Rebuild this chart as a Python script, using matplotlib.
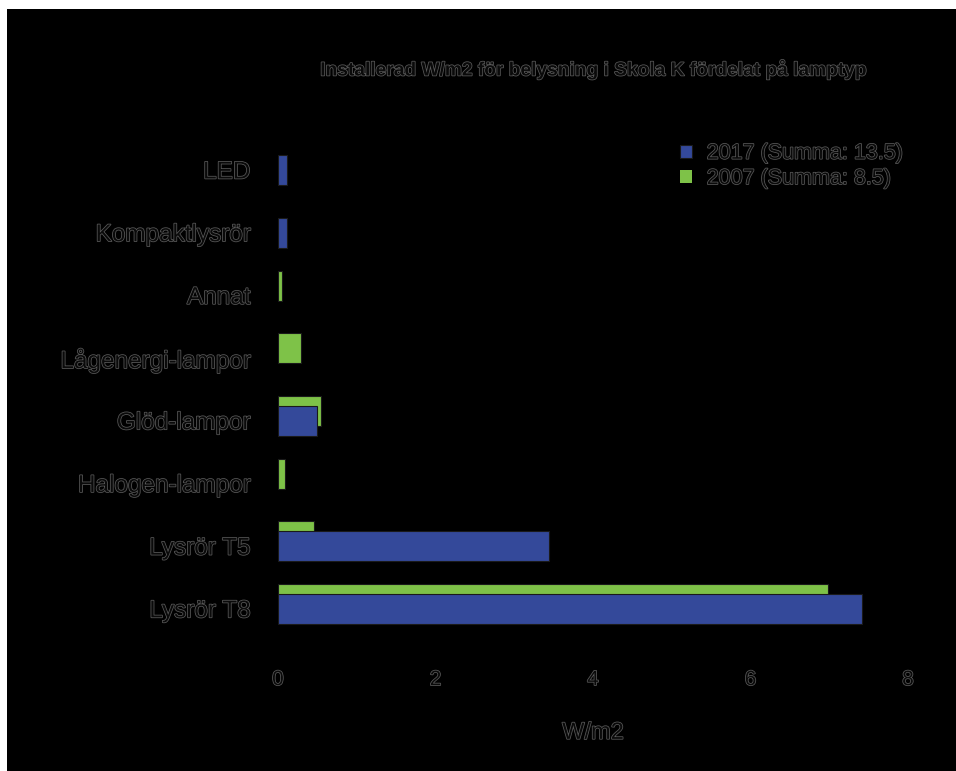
import matplotlib
matplotlib.use("Agg")
import matplotlib.pyplot as plt
import matplotlib.patheffects as pe
from matplotlib.patches import Rectangle
import numpy as np

# data (W/m2 per lamp type)
categories = ["LED", "Kompaktlysrör", "Annat", "Lågenergi-lampor",
              "Glöd-lampor", "Halogen-lampor", "Lysrör T5", "Lysrör T8"]
values_2017 = [0.11, 0.12, 0.0, 0.0, 0.50, 0.0, 3.44, 7.42]
values_2007 = [0.0, 0.0, 0.05, 0.29, 0.55, 0.09, 0.46, 6.98]
label_2017 = "2017 (Summa: 13.5)"
label_2007 = "2007 (Summa: 8.5)"
xticks = [0, 2, 4, 6, 8]
title = "Installerad W/m2 för belysning i Skola K fördelat på lamptyp"
xlabel = "W/m2"

blue = "#34499a"
green = "#7ec248"
txt = "#0a0a0a"
# dark text on black with a faint grey rim, like the original
rim = [pe.withStroke(linewidth=1.1, foreground="#5a5a5a")]

plt.rcParams["font.family"] = ["Liberation Sans", "DejaVu Sans"]

fig = plt.figure(figsize=(9.56, 7.71), dpi=100)
fig.patch.set_facecolor("white")
# black plate, white strip on top and left
fig.patches.append(Rectangle((7 / 956, 0), 1 - 7 / 956, 1 - 9 / 771,
                             transform=fig.transFigure, facecolor="black",
                             edgecolor="none", zorder=-10))

ax = fig.add_axes([278 / 956, 0.1615, (908 - 278) / 956, 0.8283 - 0.1615])
ax.set_facecolor("none")

y = np.arange(len(categories))
h = 0.48
lw7 = [0.8 if v > 0 else 0 for v in values_2007]
lw17 = [0.8 if v > 0 else 0 for v in values_2017]
ax.barh(y - 0.155, values_2007, height=h, color=green, edgecolor="#1a1a1a",
        linewidth=lw7, label=label_2007, zorder=2)
ax.barh(y, values_2017, height=h, color=blue, edgecolor="#1a1a1a",
        linewidth=lw17, label=label_2017, zorder=3)

ax.set_xlim(0, 8)
ax.set_ylim(7.6, -0.6)
ax.set_xticks(xticks)
ax.set_yticks(y)
ax.set_yticklabels(categories)
for s in ax.spines.values():
    s.set_visible(False)
ax.tick_params(length=0)
ax.tick_params(axis="x", pad=17, labelsize=15, labelcolor=txt)
ax.tick_params(axis="y", pad=20, labelsize=17.5, labelcolor=txt)
for t in ax.get_xticklabels() + ax.get_yticklabels():
    t.set_path_effects(rim)

ax.set_xlabel(xlabel, fontsize=17, color=txt, path_effects=rim)
ax.xaxis.label.set_va("center")
ax.xaxis.set_label_coords(0.5, -0.168)

fig.text(593 / 956, 1 - 70 / 771, title, ha="center", va="center",
         fontsize=13.8, fontweight="bold", color=txt, path_effects=rim)

handles, labels = ax.get_legend_handles_labels()
leg = ax.legend(handles[::-1], labels[::-1], loc="upper left",
                bbox_to_anchor=(669 / 956, 1 - 132 / 771),
                bbox_transform=fig.transFigure, frameon=False, fontsize=15.5,
                handlelength=0.55, handleheight=0.55, handletextpad=0.7,
                labelspacing=0.2, borderpad=0)
for t in leg.get_texts():
    t.set_color(txt)
    t.set_path_effects(rim)

fig.savefig("out.png", dpi=100, facecolor=fig.get_facecolor())
